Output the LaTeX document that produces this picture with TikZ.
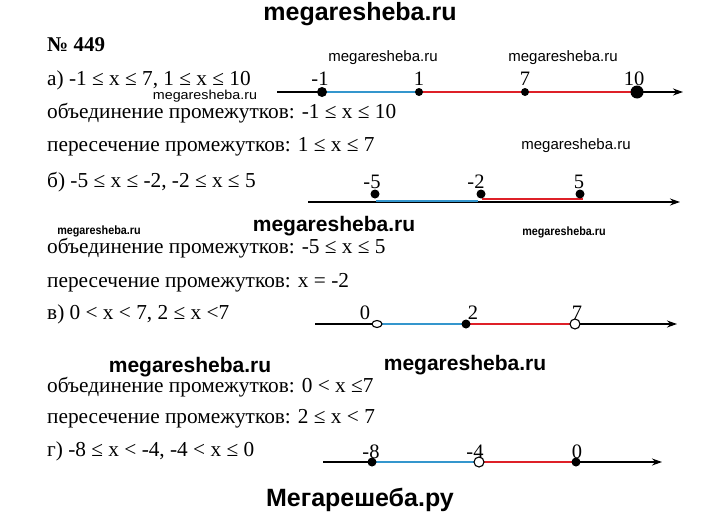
\documentclass[tikz,border=0pt]{standalone}
\usepackage{fontspec}
\setmainfont{Liberation Serif}
\newfontfamily\wsans{Liberation Sans}
\usetikzlibrary{arrows.meta,shapes.geometric}
\definecolor{segblue}{RGB}{52,150,205}
\definecolor{segred}{RGB}{222,32,40}
\begin{document}
\begin{tikzpicture}[x=1pt,y=-1pt,
  txt/.style={anchor=west,inner sep=0pt,font=\fontsize{21.3}{21.3}\selectfont},
  lbl/.style={anchor=center,inner sep=0pt,font=\fontsize{20.5}{20.5}\selectfont},
  wm/.style={anchor=center,inner sep=0pt,font=\wsans\fontsize{15}{15}\selectfont},
  wmc/.style={anchor=center,inner sep=0pt,font=\wsans\bfseries\fontsize{12}{12}\selectfont},
  wmb/.style={anchor=center,inner sep=0pt,font=\wsans\bfseries\fontsize{21}{21}\selectfont},
  ttl/.style={anchor=center,inner sep=0pt,font=\wsans\bfseries\fontsize{25}{25}\selectfont},
  axisline/.style={line width=1.3pt,-{Stealth[length=10pt,width=7pt]}},
  bl/.style={draw=segblue,line width=2.6pt},
  rd/.style={draw=segred,line width=2.6pt},
  fdot/.style={circle,fill=black,inner sep=0pt,minimum size=#1},
  odot/.style={ellipse,draw=black,fill=white,line width=1.1pt,inner sep=0pt,minimum width=10pt,minimum height=#1}
]
\useasboundingbox (0,0) rectangle (720,522);
\fill[white] (0,0) rectangle (720,522);

% titles
\node[ttl] (title) at (360,14) {megaresheba.ru};
\node[ttl] (bottom) at (360,500) {Мегарешеба.ру};

% watermarks
\node[wm] (w1) at (383,58) {megaresheba.ru};
\node[wm] (w2) at (563,58) {megaresheba.ru};
\node[wm,font=\wsans\fontsize{13}{13}\selectfont] (w3) at (205,96) {\scalebox{1.1}[1]{megaresheba.ru}};
\node[wm] (w4) at (576,146) {megaresheba.ru};
\node[wmb] (w5) at (334,226) {megaresheba.ru};
\node[wmc] (w6) at (99,231) {\scalebox{0.9}[1]{megaresheba.ru}};
\node[wmc] (w7) at (564,232) {\scalebox{0.9}[1]{megaresheba.ru}};
\node[wmb] (w8) at (190,367) {megaresheba.ru};
\node[wmb] (w9) at (465,365) {megaresheba.ru};

% text lines
\node[txt,font=\bfseries\fontsize{21}{21}\selectfont] (num) at (47,45) {№ 449};
\node[txt] (ta) at (47,80) {а) -1 ≤ x ≤ 7, 1 ≤ x ≤ 10};
\node[txt] (ta1) at (47,113) {объединение промежутков: -1 ≤ x ≤ 10};
\node[txt] (ta2) at (47,147) {пересечение промежутков: 1 ≤ x ≤ 7};
\node[txt] (tb) at (47,182) {б) -5 ≤ x ≤ -2, -2 ≤ x ≤ 5};
\node[txt] (tb1) at (47,248) {объединение промежутков: -5 ≤ x ≤ 5};
\node[txt] (tb2) at (47,283) {пересечение промежутков: x = -2};
\node[txt] (tc) at (47,314) {в) 0 < x < 7, 2 ≤ x <7};
\node[txt] (tc1) at (47,387) {объединение промежутков: 0 < x ≤7};
\node[txt] (tc2) at (47,419) {пересечение промежутков: 2 ≤ x < 7};
\node[txt] (td) at (47,451) {г) -8 ≤ x < -4, -4 < x ≤ 0};

% ---- number line a
\coordinate (aS) at (277,92);
\coordinate (aE) at (683,92);
\coordinate (am1) at (322,92);
\coordinate (a1) at (419,92);
\coordinate (a7) at (525,92);
\coordinate (a10) at (637,92);
\draw[axisline] (aS) -- (aE);
\draw[bl,yshift=-1pt] (am1) -- (a7);
\draw[rd,yshift=1pt] (a1) -- (a10);
\node[fdot=10pt] (dam1) at (am1) {};
\node[fdot=8pt] (da1) at (a1) {};
\node[fdot=8pt] (da7) at (a7) {};
\node[fdot=13pt] (da10) at (a10) {};
\node[lbl] (lam1) at (320,79) {-1};
\node[lbl] (la1) at (419,79) {1};
\node[lbl] (la7) at (525,79) {7};
\node[lbl] (la10) at (634,79) {10};

% ---- number line b
\coordinate (bS) at (308,202);
\coordinate (bE) at (680,202);
\coordinate (bm5) at (376,201);
\coordinate (bm2) at (478,201);
\coordinate (bm2r) at (482,199);
\coordinate (b5) at (583,199);
\draw[axisline] (bS) -- (bE);
\draw[bl] (bm5) -- (bm2);
\draw[rd] (bm2r) -- (b5);
\node[fdot=9pt] (dbm5) at (375,194) {};
\node[fdot=9pt] (dbm2) at (481,194) {};
\node[fdot=9pt] (db5) at (580,194) {};
\node[lbl] (lbm5) at (372,182) {-5};
\node[lbl] (lbm2) at (476,182) {-2};
\node[lbl] (lb5) at (579,182) {5};

% ---- number line c
\coordinate (cS) at (315,324);
\coordinate (cE) at (677,324);
\coordinate (c0) at (377,324);
\coordinate (c2) at (466,324);
\coordinate (c7) at (575,324);
\draw[axisline] (cS) -- (cE);
\draw[bl] (c0) -- (c2);
\draw[rd] (c2) -- (c7);
\node[lbl] (lc0) at (365,313) {0};
\node[lbl] (lc2) at (473,313) {2};
\node[odot=7pt] (dc0) at (c0) {};
\node[fdot=9pt] (dc2) at (c2) {};
\node[odot=10pt] (dc7) at (c7) {};
\node[lbl] (lc7) at (577,313) {7};

% ---- number line d
\coordinate (dS) at (323,462);
\coordinate (dE) at (662,462);
\coordinate (dm8) at (372,462);
\coordinate (dm4) at (479,462);
\coordinate (d0) at (576,462);
\draw[axisline] (dS) -- (dE);
\draw[bl,yshift=-1pt] (dm8) -- (dm4);
\draw[rd] (dm4) -- (d0);
\node[fdot=9pt] (ddm8) at (dm8) {};
\node[odot=10pt] (ddm4) at (dm4) {};
\node[fdot=9pt] (dd0) at (d0) {};
\node[lbl] (ldm8) at (371,452) {-8};
\node[lbl] (ldm4) at (475,452) {-4};
\node[lbl] (ld0) at (577,452) {0};
\end{tikzpicture}
\end{document}
